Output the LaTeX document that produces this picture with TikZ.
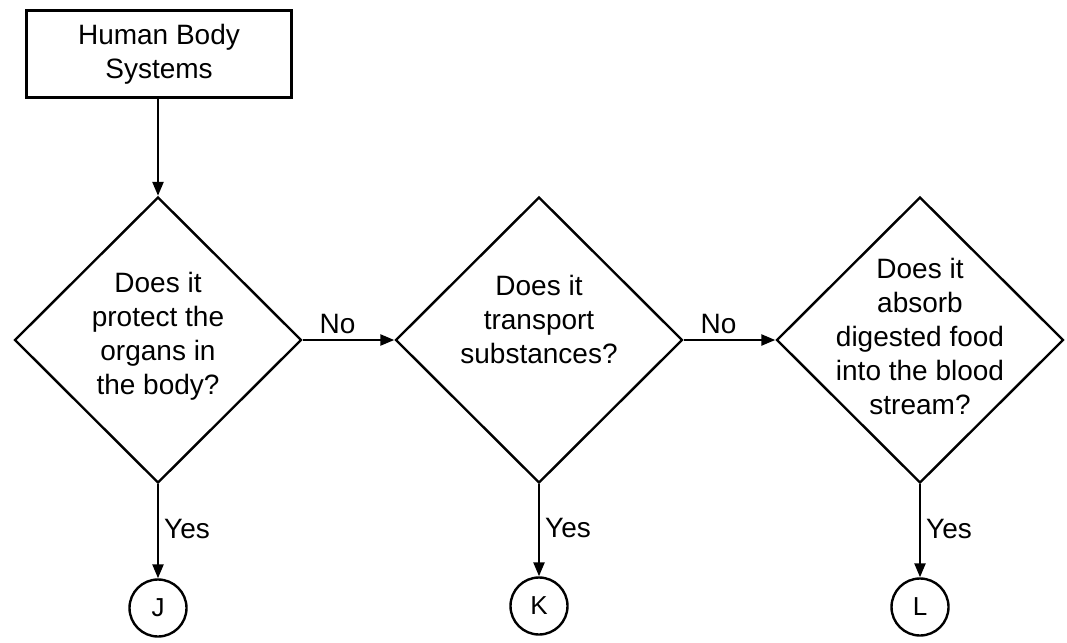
\documentclass[tikz,border=0pt]{standalone}
\usepackage{fontspec}
\setmainfont{Liberation Sans}
\usetikzlibrary{shapes.geometric,arrows.meta}
\tikzset{
  txt/.style={font=\fontsize{28}{34}\selectfont, align=center, inner sep=0pt},
  startbox/.style={draw, line width=2.6pt, minimum width=265pt, minimum height=87pt, txt},
  decision/.style={draw, diamond, line width=2.4pt, minimum width=287pt, minimum height=286pt, inner sep=0pt},
  endcircle/.style={draw, circle, line width=2.4pt, minimum size=57pt, inner sep=0pt, font=\fontsize{26}{30}\selectfont},
  flow/.style={line width=2.4pt, -{Triangle[length=14pt,width=11pt]}},
  lbl/.style={font=\fontsize{28}{34}\selectfont, inner sep=5pt}
}
\begin{document}
\begin{tikzpicture}[x=1pt,y=-1pt]
\useasboundingbox (0,0) rectangle (1067,642);
\node[startbox] (box) at (159,54) {Human Body\\Systems};
\node[decision] (d1) at (158,340) {};
\node[decision] (d2) at (539,340) {};
\node[decision] (d3) at (920,340) {};
\node[txt] (t1) at (158,336) {Does it\\protect the\\organs in\\the body?};
\node[txt] (t2) at (539,319) {Does it\\transport\\substances?};
\node[txt] (t3) at (920,336) {Does it\\absorb\\digested food\\into the blood\\stream?};
\node[endcircle] (J) at (158,608) {J};
\node[endcircle] (K) at (539,606) {K};
\node[endcircle] (L) at (920,607) {L};
\draw[flow] (box.south -| d1.north) -- (d1.north);
\draw[flow] (d1.east) -- node[lbl, above, pos=0.38] {No} (d2.west);
\draw[flow] (d2.east) -- node[lbl, above, pos=0.38] {No} (d3.west);
\draw[flow] (d1.south) -- node[lbl, right, pos=0.48] {Yes} (J.north);
\draw[flow] (d2.south) -- node[lbl, right, pos=0.48] {Yes} (K.north);
\draw[flow] (d3.south) -- node[lbl, right, pos=0.48] {Yes} (L.north);
\end{tikzpicture}
\end{document}
